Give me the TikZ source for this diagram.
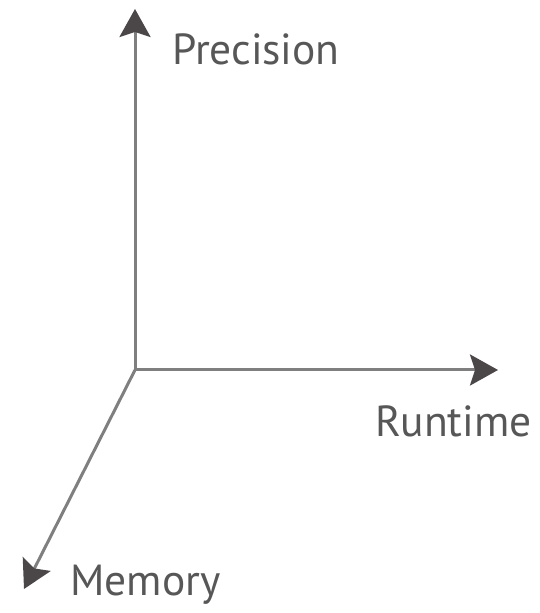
\documentclass[tikz,border=0pt]{standalone}
\usepackage{fontspec}
\setmainfont{PT Sans}
\usepackage{tikz}
\usetikzlibrary{arrows.meta, positioning}

\definecolor{axisgray}{HTML}{7F7F7F}
\definecolor{tipgray}{HTML}{4B4647}
\definecolor{labelgray}{HTML}{575757}

\tikzset{
  axis/.style={draw=axisgray, line width=3pt,
    -{Stealth[length=28pt, width=31pt, inset=5pt, color=tipgray]}},
  axislabel/.style={anchor=base west, inner sep=0pt, text=labelgray,
    font=\fontsize{43.5}{46}\selectfont}
}

\begin{document}
\begin{tikzpicture}[x=1pt, y=1pt]
\useasboundingbox (0,0) rectangle (539,613);

\coordinate (o) at (135,243) ;
\coordinate (ptip) at (135,604) ;
\coordinate (rtip) at (498,243) ;
\coordinate (mtip) at (24,24) ;

\node[axislabel] (precision) at (172,548) {Precision} ;
\node[axislabel] (runtime) at (375,176) {Runtime} ;
\node[axislabel] (memory) at (70,17) {Memory} ;

\draw[axis] (o) -- (ptip);
\draw[axis] (o) -- (rtip);
\draw[axis] (o) -- (mtip);

\end{tikzpicture}
\end{document}
